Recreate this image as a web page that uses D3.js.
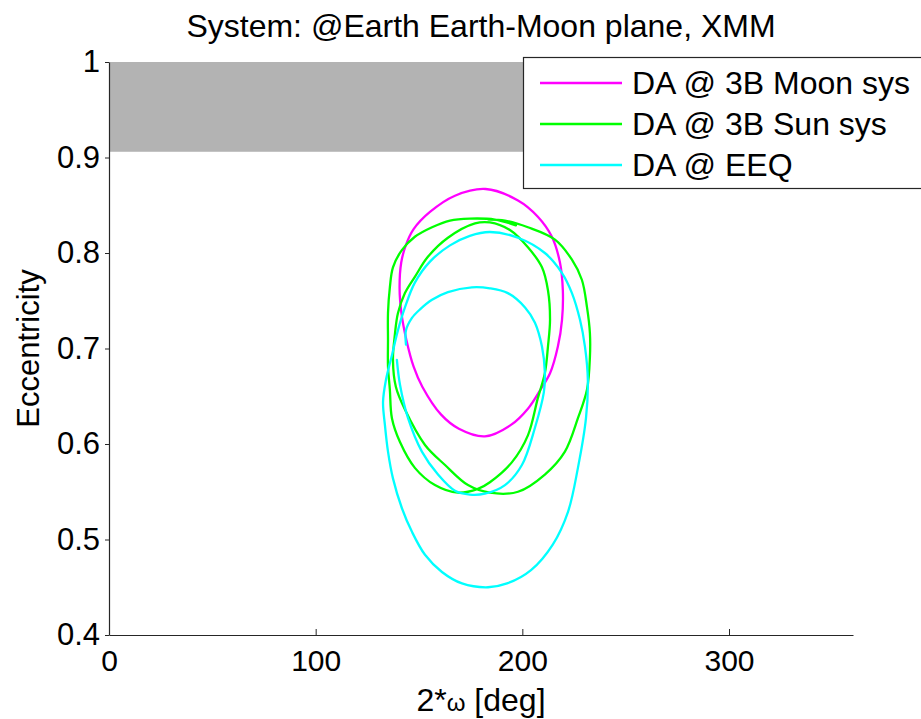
<!DOCTYPE html>
<html>
<head>
<meta charset="utf-8">
<script src="https://cdn.jsdelivr.net/npm/d3@7/dist/d3.min.js"></script>
<style>
  html, body { margin: 0; padding: 0; background: #fff; }
  svg { display: block; font-family: "Liberation Sans", Arial, Helvetica, sans-serif; }
</style>
</head>
<body>
<svg id="chart" width="921" height="719"></svg>
<script>
// ---- data -------------------------------------------------------------
const chartTitle = "System: @Earth Earth-Moon plane, XMM";
const yLabel = "Eccentricity";
const xTicks = [0, 100, 200, 300];
const yTicks = [0.4, 0.5, 0.6, 0.7, 0.8, 0.9, 1.0];
const xDomain = [0, 360];
const yDomain = [0.4, 1.0];

// eccentricity band above the impact limit
const impactBand = [0.906, 1.0];

const seriesNames = ["DA @ 3B Moon sys", "DA @ 3B Sun sys", "DA @ EEQ"];

// [2*omega (deg), eccentricity]
const moonSys = [
  [182.2, 0.867], [197.9, 0.855], [207.5, 0.838], [214.3, 0.817], [218.2, 0.790],
  [219.6, 0.761], [219.2, 0.730], [217.2, 0.702], [213.4, 0.674], [208.5, 0.656],
  [202.7, 0.637], [194.5, 0.620], [181.9, 0.608], [169.3, 0.616], [160.6, 0.631],
  [151.6, 0.660], [147.4, 0.681], [143.9, 0.709], [141.5, 0.737], [140.6, 0.763],
  [141.4, 0.790], [143.6, 0.808], [147.4, 0.825], [155.3, 0.843], [167.4, 0.860]
];

const sunSys = [
  [196.9, 0.829], [186.7, 0.835], [174.6, 0.836], [165.0, 0.834], [156.3, 0.827],
  [148.0, 0.817], [141.7, 0.803], [137.4, 0.785], [135.9, 0.764], [135.0, 0.737],
  [135.0, 0.709], [135.0, 0.681], [135.9, 0.657], [136.9, 0.627], [140.8, 0.602],
  [148.0, 0.575], [157.7, 0.557], [168.8, 0.549], [178.5, 0.553], [184.3, 0.560],
  [195.0, 0.581], [202.7, 0.609], [207.5, 0.648], [210.9, 0.674], [212.4, 0.702],
  [213.4, 0.730], [212.4, 0.761], [209.5, 0.785], [202.7, 0.806], [194.0, 0.824],
  [184.3, 0.832], [177.1, 0.831], [164.0, 0.816], [154.3, 0.796], [148.0, 0.775],
  [143.2, 0.758], [139.8, 0.737], [138.4, 0.716], [137.4, 0.688], [138.8, 0.660],
  [143.2, 0.636], [152.9, 0.599], [162.6, 0.578], [173.7, 0.557], [184.3, 0.549],
  [197.9, 0.550], [210.9, 0.568], [220.6, 0.592], [226.9, 0.627], [231.3, 0.657],
  [232.7, 0.691], [232.7, 0.716], [231.3, 0.743], [228.8, 0.772], [224.0, 0.793],
  [215.8, 0.814], [202.7, 0.827], [191.6, 0.834], [183.4, 0.835]
];

// EEQ: inner arc (open) and outer loop (closed)
const eeqInner = [
  [143.7, 0.704], [143.7, 0.719], [146.6, 0.732], [150.5, 0.741], [156.3, 0.751],
  [164.0, 0.759], [175.6, 0.764], [184.3, 0.763], [193.0, 0.758], [201.3, 0.743],
  [206.1, 0.727], [209.5, 0.702], [210.9, 0.675], [210.4, 0.654], [206.1, 0.617],
  [199.8, 0.578], [191.6, 0.557], [181.9, 0.548], [174.6, 0.547], [167.4, 0.551],
  [159.2, 0.568], [151.4, 0.592], [144.7, 0.627], [140.8, 0.662], [139.3, 0.688]
];
const eeqOuter = [
  [184.3, 0.822], [197.9, 0.816], [210.9, 0.800], [219.2, 0.779], [224.0, 0.758],
  [227.9, 0.730], [230.3, 0.702], [231.7, 0.667], [230.8, 0.627], [226.9, 0.575],
  [222.1, 0.529], [214.8, 0.495], [204.2, 0.468], [192.6, 0.454], [183.4, 0.450],
  [170.8, 0.454], [161.1, 0.466], [152.9, 0.484], [146.6, 0.508], [141.7, 0.533],
  [137.4, 0.564], [135.0, 0.592], [133.5, 0.620], [132.6, 0.644], [134.0, 0.667],
  [136.9, 0.693], [139.8, 0.719], [143.2, 0.743], [148.0, 0.769], [155.3, 0.791],
  [165.0, 0.808], [174.6, 0.818]
];

const colors = ["#ff00ff", "#00ff00", "#00ffff"];

// ---- layout -----------------------------------------------------------
const svg = d3.select("#chart");
const plot = { left: 109, right: 853, top: 62, bottom: 635 };

const x = d3.scaleLinear().domain(xDomain).range([plot.left, plot.right]);
const y = d3.scaleLinear().domain(yDomain).range([plot.bottom, plot.top]);

// shaded band
svg.append("rect")
  .attr("x", x(xDomain[0]))
  .attr("y", y(impactBand[1]))
  .attr("width", x(xDomain[1]) - x(xDomain[0]))
  .attr("height", y(impactBand[0]) - y(impactBand[1]))
  .attr("fill", "#b3b3b3");

// curves
const openLine = d3.line().x(d => x(d[0])).y(d => y(d[1])).curve(d3.curveCatmullRom.alpha(0.5));
const closedLine = d3.line().x(d => x(d[0])).y(d => y(d[1])).curve(d3.curveCatmullRomClosed.alpha(0.5));

const curves = [
  { data: moonSys, gen: closedLine, color: colors[0] },
  { data: sunSys, gen: openLine, color: colors[1] },
  { data: eeqOuter, gen: closedLine, color: colors[2] },
  { data: eeqInner, gen: openLine, color: colors[2] }
];

const curveLayer = svg.append("g");
curves.forEach(c => {
  curveLayer.append("path")
    .attr("d", c.gen(c.data))
    .attr("fill", "none")
    .attr("stroke", c.color)
    .attr("stroke-width", 2.3)
    .attr("stroke-linejoin", "round")
    .attr("stroke-linecap", "round");
});

// axes
const tickFmt = d => (d === 1 ? "1" : d3.format(".1f")(d));

const xAxis = svg.append("g")
  .attr("transform", `translate(0,${plot.bottom})`)
  .call(d3.axisBottom(x).tickValues(xTicks).tickSizeInner(-6).tickSizeOuter(0).tickPadding(15));

const yAxis = svg.append("g")
  .attr("transform", `translate(${plot.left},0)`)
  .call(d3.axisLeft(y).tickValues(yTicks).tickFormat(tickFmt).tickSizeInner(4).tickSizeOuter(0).tickPadding(5));

[xAxis, yAxis].forEach(g => {
  g.select(".domain").attr("stroke", "#262626").attr("stroke-width", 1.2);
  g.selectAll(".tick line").attr("stroke", "#262626");
  g.selectAll(".tick text")
    .attr("fill", "#000")
    .style("font-family", '"Liberation Sans", Arial, Helvetica, sans-serif');
});
xAxis.selectAll(".tick text").style("font-size", "30px");
yAxis.selectAll(".tick text").style("font-size", "31px");

// title
svg.append("text")
  .attr("x", (plot.left + plot.right) / 2)
  .attr("y", 37)
  .attr("text-anchor", "middle")
  .style("font-size", "32px")
  .text(chartTitle);

// y label
svg.append("text")
  .attr("transform", `translate(39,${(plot.top + plot.bottom) / 2}) rotate(-90)`)
  .attr("text-anchor", "middle")
  .style("font-size", "31px")
  .text(yLabel);

// x label with omega
const xl = svg.append("text")
  .attr("x", (plot.left + plot.right) / 2)
  .attr("y", 711)
  .attr("text-anchor", "middle")
  .style("font-size", "32px");
xl.append("tspan").text("2*");
xl.append("tspan").style("font-size", "24px").text("ω");
xl.append("tspan").text(" [deg]");

// legend
const legend = svg.append("g");
legend.append("rect")
  .attr("x", 523.5).attr("y", 57.5)
  .attr("width", 420).attr("height", 131)
  .attr("fill", "#fff")
  .attr("stroke", "#262626")
  .attr("stroke-width", 1.2);

seriesNames.forEach((name, i) => {
  const ry = 83 + i * 41;
  legend.append("line")
    .attr("x1", 540).attr("x2", 622)
    .attr("y1", ry).attr("y2", ry)
    .attr("stroke", colors[i])
    .attr("stroke-width", 2.3);
  legend.append("text")
    .attr("x", 632).attr("y", ry + 11)
    .style("font-size", "32px")
    .text(name);
});
</script>
</body>
</html>
